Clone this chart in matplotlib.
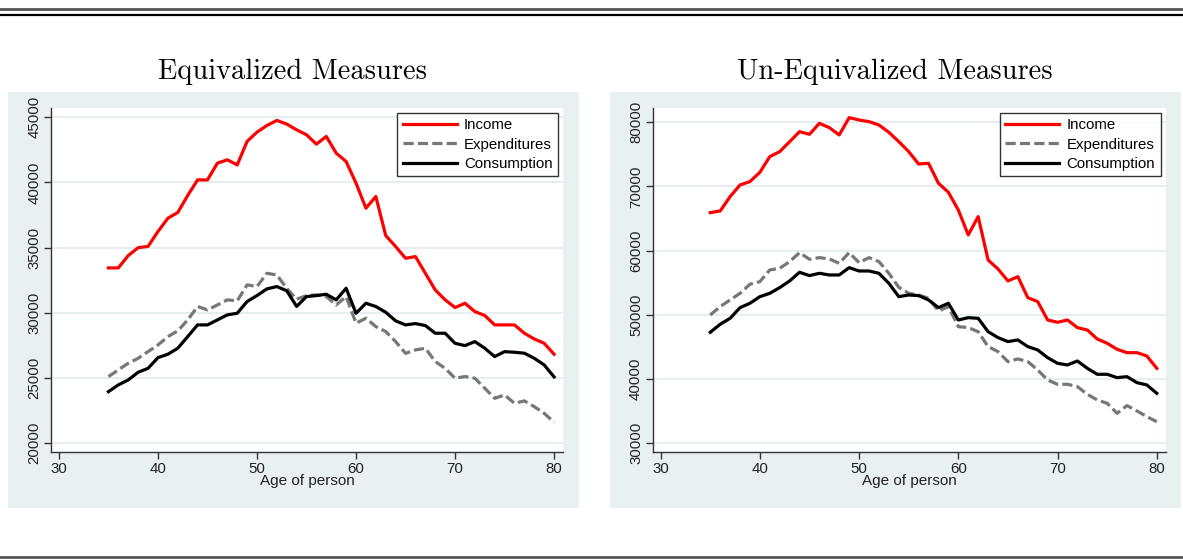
import matplotlib.pyplot as plt
from matplotlib.patches import Rectangle
from matplotlib.lines import Line2D

# ages 35..80, one point per year
ages = list(range(35, 81))

# Equivalized measures
eq_income = [33450, 33450, 34400, 35000, 35100, 36240, 37260, 37700, 39000, 40200,
             40200, 41480, 41740, 41350, 43150, 43860, 44370, 44760, 44480, 44040,
             43660, 42940, 43530, 42250, 41610, 39950, 38030, 38930, 35930, 35090,
             34190, 34320, 33040, 31760, 31000, 30410, 30740, 30100, 29800, 29080,
             29080, 29080, 28440, 28000, 27670, 26830]
eq_expend = [25115, 25630, 26140, 26520, 27030, 27540, 28180, 28620, 29460, 30490,
             30230, 30610, 31000, 30920, 32150, 32020, 33040, 32910, 31890, 31050,
             31330, 31380, 31250, 30610, 31250, 29210, 29590, 28950, 28570, 27800,
             26900, 27160, 27290, 26270, 25750, 24990, 25120, 24990, 24220, 23450,
             23710, 23070, 23250, 22810, 22300, 21610]
eq_consump = [23960, 24480, 24860, 25450, 25750, 26570, 26830, 27290, 28180, 29080,
              29080, 29460, 29850, 29970, 30870, 31330, 31840, 32020, 31700, 30500,
              31250, 31330, 31430, 31000, 31890, 29970, 30740, 30490, 30050, 29390,
              29080, 29180, 29030, 28440, 28440, 27670, 27490, 27800, 27290, 26650,
              27030, 26980, 26910, 26520, 26010, 25090]

# Un-equivalized measures
un_income = [65930, 66190, 68420, 70240, 70760, 72210, 74650, 75430, 76990, 78540,
             78130, 79840, 79170, 78030, 80730, 80360, 80100, 79580, 78440, 76990,
             75430, 73510, 73610, 70500, 69100, 66340, 62450, 65310, 58560, 57150,
             55290, 55960, 52690, 52070, 49210, 48850, 49210, 48020, 47650, 46250,
             45580, 44640, 44120, 44120, 43600, 41680]
un_expend = [49990, 51290, 52330, 53360, 54770, 55180, 57000, 57260, 58300, 59700,
             58660, 58920, 58710, 58040, 59700, 58140, 58920, 58300, 56480, 54300,
             53360, 53100, 52590, 50610, 51290, 48170, 48020, 47390, 45060, 44280,
             42720, 43140, 42720, 41420, 39860, 39190, 39190, 38830, 37630, 36750,
             36230, 34670, 35870, 35040, 34150, 33370]
un_consump = [47290, 48540, 49470, 51130, 51810, 52840, 53360, 54250, 55290, 56640,
              56120, 56480, 56220, 56220, 57360, 56840, 56840, 56480, 54920, 52840,
              53100, 53000, 52330, 51130, 51810, 49210, 49570, 49470, 47390, 46460,
              45840, 46100, 45060, 44540, 43340, 42460, 42200, 42820, 41680, 40750,
              40750, 40230, 40380, 39450, 39090, 37790]

titles = ["Equivalized Measures", "Un-Equivalized Measures"]
xticks = [30, 40, 50, 60, 70, 80]
eq_yticks = [20000, 25000, 30000, 35000, 40000, 45000]
un_yticks = [30000, 40000, 50000, 60000, 70000, 80000]

BG = "#e8f0f2"
GRID = "#e6eef1"
plt.rcParams["font.family"] = ["Liberation Sans", "DejaVu Sans"]

fig = plt.figure(figsize=(11.83, 5.59), dpi=100)
W, H = 1183, 559


def fx(px):
    return px / W


def fy(py):
    return 1 - py / H


# outer rules
fig.add_artist(Line2D([0, 1], [fy(9), fy(9)], color="#555555", lw=2.0))
fig.add_artist(Line2D([0, 1], [fy(14.5), fy(14.5)], color="black", lw=1.6))
fig.add_artist(Line2D([0, 1], [fy(557), fy(557)], color="#555555", lw=2.0))

# light panel backgrounds
for x0, x1 in [(8, 579), (610, 1181)]:
    fig.add_artist(Rectangle((fx(x0), fy(507.5)), fx(x1 - x0), (507.5 - 92) / H,
                             facecolor=BG, edgecolor="none", zorder=0))

panels = [
    (51, 563, eq_income, eq_expend, eq_consump, eq_yticks, (19333, 45713)),
    (652.7, 1165.7, un_income, un_expend, un_consump, un_yticks, (28645, 82227)),
]

for (x0, x1, inc, exp_, con, yt, ylim), title in zip(panels, titles):
    ax = fig.add_axes([fx(x0), fy(452), fx(x1 - x0), (452 - 108) / H])
    ax.set_facecolor("white")
    ax.plot(ages, inc, color="#ff0000", lw=2.3, label="Income")
    ax.plot(ages, exp_, color="#777777", lw=2.3, ls=(0, (3.2, 1.3)), label="Expenditures")
    ax.plot(ages, con, color="black", lw=2.3, label="Consumption")
    ax.set_xlim(29.2, 80.9)
    ax.set_ylim(*ylim)
    ax.set_xticks(xticks)
    ax.set_yticks(yt)
    ax.set_yticklabels([str(v) for v in yt], rotation=90, va="center")
    ax.grid(True, axis="y", color=GRID, lw=1.4)
    ax.set_axisbelow(True)
    for s in ["top", "right"]:
        ax.spines[s].set_visible(False)
    for s in ["left", "bottom"]:
        ax.spines[s].set_color("#333333")
        ax.spines[s].set_linewidth(1.0)
    ax.tick_params(colors="#333333", labelcolor="#222222", labelsize=10.8,
                   length=5, width=1.0, pad=2)
    ax.set_xlabel("Age of person", fontsize=11, color="#222222", labelpad=-1)
    leg = ax.legend(loc="upper right", bbox_to_anchor=(0.99, 0.985), fontsize=10.8,
                    frameon=True, fancybox=False, edgecolor="black",
                    handlelength=3.6, labelspacing=0.35, borderpad=0.35,
                    handletextpad=0.5, borderaxespad=0)
    leg.get_frame().set_linewidth(1.0)
    fig.text(fx((x0 + x1) / 2 - 14), fy(72), title, family="cmr10", fontsize=20.5,
             ha="center", va="center")

fig.savefig("out.png", dpi=100)
